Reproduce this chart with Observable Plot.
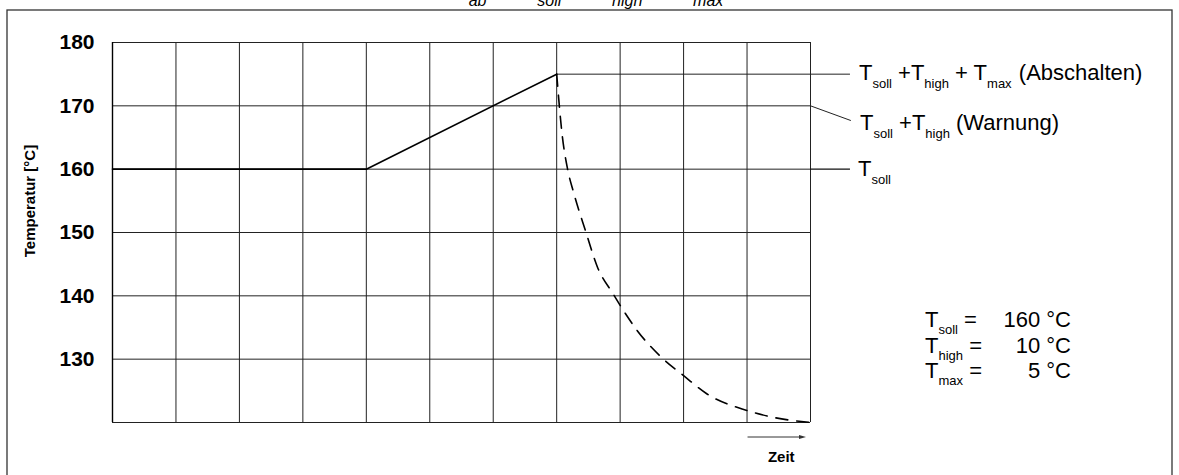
<!DOCTYPE html>
<html><head><meta charset="utf-8">
<script src="https://cdn.jsdelivr.net/npm/d3@7"></script>
<script src="https://cdn.jsdelivr.net/npm/@observablehq/plot@0.6"></script>
<style>
body{margin:0;background:#fff;font-family:"Liberation Sans",Arial,sans-serif;}
svg text{white-space:pre;}
</style></head><body><div id="chart"></div>
<script>
// ---- data ----
const timeSteps = [0,1,2,3,4,5,6,7,8,9,10,11];
const tempTicks = [130,140,150,160,170,180];
const gridTemps = [120,130,140,150,160,170,180];
const heatTime = [0, 4, 7];
const heatTemp = [160, 160, 175];
const coolTime = [7, 7.09, 7.17, 7.27, 7.46, 7.64, 7.89, 8.0, 8.27, 8.65, 9.0, 9.37, 10.0, 10.42, 11.0];
const coolTemp = [175, 165.1, 160.1, 156.2, 150.1, 144.6, 140.3, 138.5, 134.5, 130.3, 127.4, 124.5, 121.9, 120.8, 120.0];
const T_soll = 160, T_high = 10, T_max = 5;
const labelEnd = 11.63; // end of threshold leader lines (time units)

const heat = heatTime.map((t,i)=>({t, v: heatTemp[i]}));
const cool = coolTime.map((t,i)=>({t, v: coolTemp[i]}));
const FONT = '"Liberation Sans",Arial,sans-serif';

const plot = Plot.plot({
  width: 1179, height: 475,
  marginLeft: 112, marginRight: 369, marginTop: 42, marginBottom: 53,
  x: {domain: [0, 11], axis: null},
  y: {domain: [120, 180], axis: null},
  style: {fontFamily: FONT, background: "white", color: "#000", overflow: "visible"},
  marks: [
    Plot.ruleX(timeSteps, {y1: 120, y2: 180, stroke: "#222", strokeWidth: 1}),
    Plot.ruleY(gridTemps, {x1: 0, x2: 11, stroke: "#222", strokeWidth: 1}),
    Plot.ruleX([0], {y1: 120, y2: 180, stroke: "#000", strokeWidth: 1.4}),
    // threshold leader lines
    Plot.ruleY([T_soll + T_high + T_max], {x1: 7, x2: labelEnd, stroke: "#222", strokeWidth: 1, clip: false}),
    Plot.ruleY([T_soll], {x1: 11, x2: labelEnd, stroke: "#111", strokeWidth: 1.4, clip: false}),
    Plot.line([{t: 11, v: T_soll + T_high}, {t: labelEnd, v: 167.7}], {x: "t", y: "v", stroke: "#222", strokeWidth: 1, clip: false}),
    // data
    Plot.line(heat, {x: "t", y: "v", stroke: "#000", strokeWidth: 1.6}),
    Plot.line(cool, {x: "t", y: "v", stroke: "#000", strokeWidth: 1.6, strokeDasharray: "12,9", curve: "monotone-x"}),
    Plot.axisY(tempTicks, {tickSize: 0, tickPadding: 18, fontSize: 21, fontWeight: "bold", fill: "#000", label: null, tickFormat: d => String(d)})
  ]
});
document.getElementById("chart").appendChild(plot);

const xs = plot.scale("x"), ys = plot.scale("y");
const svg = d3.select(plot);
const g = svg.append("g").attr("font-family", FONT).attr("fill", "#000").attr("text-anchor", "start");

function rich(x, y, parts, size, sub, shift, extra = {}) {
  const t = g.append("text").attr("x", x).attr("y", y).attr("font-size", size).attr("text-anchor", "start");
  for (const k in extra) t.attr(k, extra[k]);
  let off = 0;
  for (const p of parts) {
    const ts = t.append("tspan");
    if (typeof p === "string") { ts.attr("dy", -off); off = 0; ts.text(p); }
    else { ts.attr("dy", shift - off).attr("font-size", sub); off = shift; ts.text(p.s); }
  }
  return t;
}

// outer frame
svg.insert("rect", ":first-child").attr("x", 7).attr("y", 10).attr("width", 1165).attr("height", 500)
  .attr("fill", "none").attr("stroke", "#333").attr("stroke-width", 1.3);

// title (mostly above the visible area)
rich(451, -4.5, ["T", {s: "ab"}, " = T", {s: "soll"}, " + T", {s: "high"}, " + T", {s: "max"}], 29, 16, 10, {"font-style": "italic"});

// threshold labels
const lx = xs.apply(labelEnd) + 9;
rich(lx, ys.apply(175) + 6.5, ["T", {s: "soll"}, " +T", {s: "high"}, " + T", {s: "max"}, {s: "  "}, "(Abschalten)"], 22, 13, 8);
rich(lx + 1, ys.apply(167.7) + 10.5, ["T", {s: "soll"}, " +T", {s: "high"}, " (Warnung)"], 22, 13, 8);
rich(lx - 1, ys.apply(160) + 7.5, ["T", {s: "soll"}], 22, 13, 8);

// legend of constants
const legend = [["soll", T_soll], ["high", T_high], ["max", T_max]];
legend.forEach(([n, v], i) => {
  const by = 327 + i * 25.5;
  rich(925, by, ["T", {s: n}, " ="], 22, 13, 7);
  g.append("text").attr("x", 1071).attr("y", by).attr("font-size", 22).attr("text-anchor", "end").text(`${v} °C`);
});

// y label
g.append("text").attr("transform", "translate(35,201) rotate(-90)").attr("text-anchor", "middle")
  .attr("font-size", 15).attr("font-weight", "bold").text("Temperatur [°C]");

// time arrow
const ay = ys.apply(120) + 15;
const ax1 = xs.apply(10) + 1, ax2 = xs.apply(11) - 4;
g.append("line").attr("x1", ax1).attr("x2", ax2 - 5).attr("y1", ay).attr("y2", ay).attr("stroke", "#333").attr("stroke-width", 1);
g.append("path").attr("d", `M${ax2},${ay} L${ax2 - 7},${ay - 2} L${ax2 - 7},${ay + 2} Z`).attr("fill", "#333");
g.append("text").attr("x", (xs.apply(10) + xs.apply(11)) / 2 + 3).attr("y", 462).attr("text-anchor", "middle")
  .attr("font-size", 15).attr("font-weight", "bold").text("Zeit");
</script></body></html>
